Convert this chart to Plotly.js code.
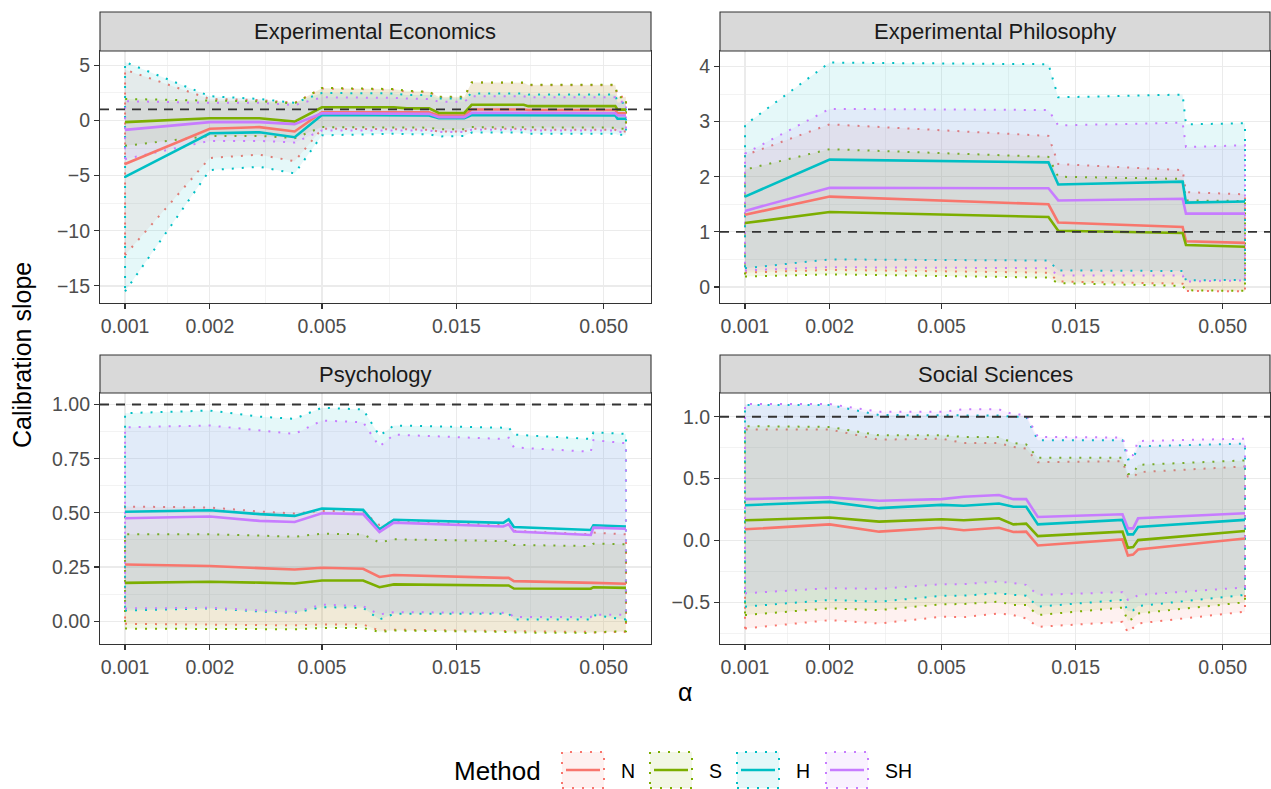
<!DOCTYPE html>
<html>
<head>
<meta charset="utf-8">
<script src="https://cdn.plot.ly/plotly-3.0.1.min.js"></script>
<style>html,body{margin:0;padding:0;background:#fff;}#chart{width:1271px;height:789px;}</style>
</head>
<body>
<div id="chart"></div>
<script>
// ---------------- DATA ----------------
const methods = ["N", "S", "H", "SH"];
const panelTitles = ["Experimental Economics", "Experimental Philosophy", "Psychology", "Social Sciences"];
const xTickVals = [0.001, 0.002, 0.005, 0.015, 0.05];
const xTickText = ["0.001", "0.002", "0.005", "0.015", "0.050"];

// Experimental Economics
const econ_alpha = [0.001,0.002,0.003,0.004,0.005,0.009,0.010,0.012,0.013,0.016,0.017,0.026,0.027,0.055,0.056,0.060];
const econ_N     = [-3.95,-0.75,-0.6,-1.0,0.75,0.8,0.75,0.75,0.45,0.45,1.0,1.0,0.95,0.95,0.65,0.65];
const econ_N_lo  = [-12.2,-3.4,-3.1,-3.7,-0.75,-0.75,-0.8,-0.85,-1.0,-1.0,-0.75,-0.75,-0.85,-0.85,-1.0,-1.0];
const econ_N_hi  = [4.6,1.95,1.85,1.6,2.9,2.8,2.6,2.6,2.1,2.1,3.45,3.4,3.2,3.2,2.15,2.15];
const econ_S     = [-0.15,0.2,0.2,-0.1,1.2,1.2,1.1,1.1,0.68,0.68,1.42,1.42,1.3,1.3,0.98,0.98];
const econ_S_lo  = [-2.3,-1.4,-1.4,-1.6,-0.6,-0.6,-0.65,-0.65,-0.8,-0.8,-0.6,-0.6,-0.65,-0.65,-0.75,-0.75];
const econ_S_hi  = [1.95,1.8,1.75,1.55,2.95,2.85,2.7,2.6,2.15,2.15,3.45,3.45,3.25,3.25,2.1,2.1];
const econ_H     = [-5.12,-1.16,-1.07,-1.52,0.5,0.5,0.45,0.45,0.2,0.2,0.5,0.5,0.45,0.45,0.15,0.15];
const econ_H_lo  = [-15.5,-4.5,-4.2,-4.8,-1.35,-1.2,-1.25,-1.25,-1.45,-1.4,-1.1,-1.1,-1.2,-1.2,-1.3,-1.3];
const econ_H_hi  = [5.3,2.2,1.95,1.6,2.5,2.45,2.3,2.3,2.0,2.0,2.45,2.45,2.35,2.35,1.6,1.6];
const econ_SH    = [-0.85,-0.15,-0.15,-0.33,0.65,0.65,0.6,0.6,0.3,0.3,0.7,0.7,0.65,0.65,0.45,0.45];
const econ_SH_lo = [-3.5,-1.85,-1.85,-2.0,-0.9,-0.85,-0.9,-0.9,-1.05,-1.05,-0.85,-0.85,-0.9,-0.9,-1.05,-1.05];
const econ_SH_hi = [1.75,1.6,1.6,1.4,2.1,2.05,2.0,1.95,1.7,1.7,2.2,2.2,2.1,2.1,1.7,1.7];

// Experimental Philosophy
const phil_alpha = [0.001,0.002,0.012,0.013,0.036,0.037,0.060];
const phil_N     = [1.31,1.64,1.50,1.17,1.09,0.83,0.80];
const phil_N_lo  = [0.26,0.31,0.26,0.10,0.06,-0.07,-0.08];
const phil_N_hi  = [2.39,2.95,2.74,2.23,2.12,1.72,1.68];
const phil_S     = [1.16,1.36,1.27,1.02,0.98,0.76,0.73];
const phil_S_lo  = [0.19,0.23,0.17,0.07,0.02,-0.06,-0.07];
const phil_S_hi  = [2.13,2.50,2.36,2.00,1.96,1.57,1.56];
const phil_H     = [1.64,2.31,2.26,1.86,1.91,1.53,1.55];
const phil_H_lo  = [0.34,0.50,0.48,0.30,0.29,0.12,0.13];
const phil_H_hi  = [2.94,4.07,4.04,3.44,3.49,2.95,2.97];
const phil_SH    = [1.38,1.80,1.79,1.57,1.60,1.33,1.33];
const phil_SH_lo = [0.30,0.36,0.34,0.21,0.21,0.10,0.12];
const phil_SH_hi = [2.42,3.23,3.21,2.93,2.98,2.54,2.57];

// Psychology
const psych_alpha = [0.001,0.002,0.003,0.004,0.005,0.007,0.008,0.009,0.022,0.023,0.024,0.045,0.046,0.060];
const psych_N     = [0.262,0.255,0.245,0.239,0.247,0.242,0.204,0.213,0.200,0.200,0.185,0.174,0.177,0.173];
const psych_N_lo  = [-0.012,-0.015,-0.017,-0.019,-0.015,-0.015,-0.043,-0.039,-0.045,-0.045,-0.046,-0.049,-0.052,-0.049];
const psych_N_hi  = [0.529,0.525,0.506,0.497,0.509,0.506,0.444,0.460,0.444,0.447,0.417,0.401,0.409,0.401];
const psych_S     = [0.177,0.182,0.178,0.174,0.188,0.188,0.157,0.170,0.165,0.165,0.151,0.150,0.157,0.154];
const psych_S_lo  = [-0.034,-0.036,-0.036,-0.037,-0.031,-0.031,-0.049,-0.043,-0.049,-0.049,-0.052,-0.054,-0.051,-0.046];
const psych_S_hi  = [0.401,0.401,0.395,0.390,0.404,0.401,0.363,0.378,0.370,0.370,0.352,0.347,0.358,0.355];
const psych_H     = [0.505,0.512,0.494,0.486,0.520,0.514,0.424,0.468,0.454,0.470,0.435,0.421,0.443,0.437];
const psych_H_lo  = [0.049,0.059,0.045,0.039,0.065,0.062,0.008,0.034,0.034,0.036,0.008,0.008,0.028,0.008];
const psych_H_hi  = [0.960,0.972,0.944,0.934,0.985,0.977,0.856,0.903,0.893,0.895,0.861,0.841,0.872,0.864];
const psych_SH    = [0.475,0.483,0.463,0.458,0.498,0.494,0.412,0.455,0.437,0.447,0.414,0.398,0.432,0.427];
const psych_SH_lo = [0.059,0.062,0.050,0.042,0.077,0.069,0.031,0.042,0.039,0.040,0.019,0.020,0.030,0.030];
const psych_SH_hi = [0.895,0.903,0.880,0.864,0.926,0.918,0.806,0.861,0.841,0.847,0.802,0.782,0.836,0.821];

// Social Sciences
const soc_alpha = [0.001,0.002,0.003,0.005,0.006,0.008,0.009,0.010,0.011,0.022,0.023,0.024,0.025,0.060];
const soc_N     = [0.090,0.130,0.071,0.103,0.082,0.103,0.068,0.071,-0.041,0.008,-0.122,-0.114,-0.073,0.016];
const soc_N_lo  = [-0.712,-0.644,-0.671,-0.617,-0.620,-0.590,-0.603,-0.630,-0.698,-0.658,-0.745,-0.707,-0.671,-0.576];
const soc_N_hi  = [0.897,0.897,0.815,0.823,0.788,0.788,0.755,0.742,0.633,0.641,0.516,0.505,0.552,0.598];
const soc_S     = [0.163,0.185,0.152,0.171,0.163,0.179,0.130,0.136,0.035,0.071,-0.060,-0.054,0.003,0.076];
const soc_S_lo  = [-0.603,-0.549,-0.563,-0.516,-0.514,-0.495,-0.522,-0.522,-0.603,-0.543,-0.652,-0.630,-0.590,-0.500];
const soc_S_hi  = [0.924,0.918,0.850,0.850,0.837,0.837,0.788,0.777,0.668,0.668,0.538,0.538,0.611,0.647];
const soc_H     = [0.285,0.312,0.261,0.288,0.280,0.299,0.272,0.272,0.130,0.166,0.049,0.049,0.109,0.166];
const soc_H_lo  = [-0.535,-0.481,-0.495,-0.448,-0.446,-0.427,-0.440,-0.446,-0.535,-0.481,-0.571,-0.565,-0.530,-0.440];
const soc_H_hi  = [1.095,1.095,1.014,1.014,1.010,1.010,1.000,1.000,0.810,0.810,0.655,0.660,0.761,0.783];
const soc_SH    = [0.334,0.348,0.321,0.334,0.353,0.367,0.334,0.334,0.190,0.212,0.098,0.098,0.179,0.220];
const soc_SH_lo = [-0.427,-0.386,-0.391,-0.353,-0.353,-0.332,-0.345,-0.359,-0.440,-0.418,-0.481,-0.470,-0.440,-0.380];
const soc_SH_hi = [1.103,1.103,1.040,1.040,1.060,1.060,1.020,1.015,0.837,0.832,0.688,0.690,0.804,0.823];

const referenceSlope = 1;

// ---------------- BUILD ----------------
const W = 1271, H = 789;
const px = v => v / W;
const py = v => 1 - v / H;
const colors = {N: "#F8766D", S: "#7CAE00", H: "#00BFC4", SH: "#C77CFF"};
const fills = {N: "rgba(248,118,109,0.10)", S: "rgba(124,174,0,0.10)", H: "rgba(0,191,196,0.10)", SH: "rgba(199,124,255,0.10)"};
const FONT = "Liberation Sans, Arial, Helvetica, sans-serif";
const TICK_SIZE = 19.5;

const panels = [
  {x: econ_alpha, N: [econ_N, econ_N_lo, econ_N_hi], S: [econ_S, econ_S_lo, econ_S_hi], H: [econ_H, econ_H_lo, econ_H_hi], SH: [econ_SH, econ_SH_lo, econ_SH_hi]},
  {x: phil_alpha, N: [phil_N, phil_N_lo, phil_N_hi], S: [phil_S, phil_S_lo, phil_S_hi], H: [phil_H, phil_H_lo, phil_H_hi], SH: [phil_SH, phil_SH_lo, phil_SH_hi]},
  {x: psych_alpha, N: [psych_N, psych_N_lo, psych_N_hi], S: [psych_S, psych_S_lo, psych_S_hi], H: [psych_H, psych_H_lo, psych_H_hi], SH: [psych_SH, psych_SH_lo, psych_SH_hi]},
  {x: soc_alpha, N: [soc_N, soc_N_lo, soc_N_hi], S: [soc_S, soc_S_lo, soc_S_hi], H: [soc_H, soc_H_lo, soc_H_hi], SH: [soc_SH, soc_SH_lo, soc_SH_hi]}
];

// panel geometry in pixels
const colX = [[100, 651], [720, 1270]];
const rowY = [[51, 303], [393, 644]];
const stripY = [[12, 51], [355, 393]];
const yCfg = [
  {range: [-16.55, 6.3], tickvals: [-15, -10, -5, 0, 5], minor: [-12.5, -7.5, -2.5, 2.5], fmt: ""},
  {range: [-0.29, 4.28], tickvals: [0, 1, 2, 3, 4], minor: [0.5, 1.5, 2.5, 3.5], fmt: ""},
  {range: [-0.105, 1.053], tickvals: [0, 0.25, 0.5, 0.75, 1], minor: [0.125, 0.375, 0.625, 0.875], fmt: ".2f"},
  {range: [-0.837, 1.192], tickvals: [-0.5, 0, 0.5, 1], minor: [-0.75, -0.25, 0.25, 0.75], fmt: ".1f"}
];

const traces = [];
const layout = {
  width: W, height: H, autosize: false,
  margin: {l: 0, r: 0, t: 0, b: 0},
  paper_bgcolor: "#FFFFFF", plot_bgcolor: "#FFFFFF",
  font: {family: FONT, color: "#4D4D4D"},
  showlegend: false,
  shapes: [], annotations: []
};

const xlogRange = [Math.log10(0.001) - 0.0889, Math.log10(0.06) + 0.0889];

panels.forEach((p, i) => {
  const col = i % 2, row = Math.floor(i / 2);
  const sfx = i === 0 ? "" : String(i + 1);
  const xa = "x" + sfx, ya = "y" + sfx;
  // ribbons
  methods.forEach(m => {
    const lo = p[m][1], hi = p[m][2];
    const xs = p.x.concat(p.x.slice().reverse()).concat([p.x[0]]);
    const ys = lo.concat(hi.slice().reverse()).concat([lo[0]]);
    traces.push({type: "scatter", mode: "lines", x: xs, y: ys, xaxis: xa, yaxis: ya,
      fill: "toself", fillcolor: fills[m],
      line: {color: colors[m], width: 2, dash: "2px,8px"},
      hoverinfo: "skip", showlegend: false});
  });
  // estimate lines
  methods.forEach(m => {
    traces.push({type: "scatter", mode: "lines", x: p.x, y: p[m][0], xaxis: xa, yaxis: ya,
      line: {color: colors[m], width: 2.6}, name: m, showlegend: false});
  });
  const cfg = yCfg[i];
  layout["xaxis" + sfx] = {
    type: "log", range: xlogRange, domain: [px(colX[col][0]), px(colX[col][1])],
    anchor: ya, tickmode: "array", tickvals: xTickVals, ticktext: xTickText,
    ticks: "outside", ticklen: 5, tickwidth: 1.1, tickcolor: "#333333",
    tickfont: {size: TICK_SIZE, color: "#4D4D4D", family: FONT},
    showgrid: true, gridcolor: "#EBEBEB", gridwidth: 1.2,
    minor: {tickmode: "array", tickvals: [0.0014142, 0.0031623, 0.0086603, 0.0273861], showgrid: true, gridcolor: "#EBEBEB", gridwidth: 0.6, ticks: ""},
    showline: true, mirror: true, linecolor: "#333333", linewidth: 1.1, zeroline: false
  };
  layout["yaxis" + sfx] = {
    range: cfg.range, domain: [py(rowY[row][1]), py(rowY[row][0])],
    anchor: xa, tickmode: "array", tickvals: cfg.tickvals, tickformat: cfg.fmt,
    ticks: "outside", ticklen: 5, tickwidth: 1.1, tickcolor: "#333333",
    tickfont: {size: TICK_SIZE, color: "#4D4D4D", family: FONT},
    showgrid: true, gridcolor: "#EBEBEB", gridwidth: 1.2,
    minor: {tickmode: "array", tickvals: cfg.minor, showgrid: true, gridcolor: "#EBEBEB", gridwidth: 0.6, ticks: ""},
    showline: true, mirror: true, linecolor: "#333333", linewidth: 1.1, zeroline: false
  };
  // reference line at slope 1
  layout.shapes.push({type: "line", xref: xa + " domain", yref: ya, x0: 0, x1: 1, y0: referenceSlope, y1: referenceSlope,
    line: {color: "#333333", width: 1.8, dash: "9px,7px"}, layer: "above"});
  // strip
  layout.shapes.push({type: "rect", xref: "paper", yref: "paper",
    x0: px(colX[col][0]), x1: px(colX[col][1]), y0: py(stripY[row][1]), y1: py(stripY[row][0]),
    fillcolor: "#D9D9D9", line: {color: "#333333", width: 1.1}, layer: "above"});
  layout.annotations.push({xref: "paper", yref: "paper",
    x: px((colX[col][0] + colX[col][1]) / 2), y: py((stripY[row][0] + stripY[row][1]) / 2),
    text: panelTitles[i], showarrow: false, xanchor: "center", yanchor: "middle",
    font: {size: 22, color: "#1A1A1A", family: FONT}});
});

// axis titles
layout.annotations.push({xref: "paper", yref: "paper", x: px(685), y: py(692), text: "α", showarrow: false,
  xanchor: "center", yanchor: "middle", font: {size: 25, color: "#000000", family: FONT}});
layout.annotations.push({xref: "paper", yref: "paper", x: px(22), y: py(355), text: "Calibration slope", showarrow: false,
  textangle: -90, xanchor: "center", yanchor: "middle", font: {size: 25, color: "#000000", family: FONT}});

// legend (drawn manually to mimic ggplot key: ribbon + line)
layout.annotations.push({xref: "paper", yref: "paper", x: px(452), y: py(771), text: "Method", showarrow: false,
  xanchor: "left", yanchor: "middle", font: {size: 26, color: "#000000", family: FONT}});
const keyLeft = [562, 650, 737, 826];
methods.forEach((m, k) => {
  const x0 = keyLeft[k], x1 = x0 + 42, y0 = 752, y1 = 788;
  layout.shapes.push({type: "rect", xref: "paper", yref: "paper", x0: px(x0), x1: px(x1), y0: py(y1), y1: py(y0),
    fillcolor: fills[m], line: {color: colors[m], width: 2, dash: "2px,8px"}});
  layout.shapes.push({type: "line", xref: "paper", yref: "paper", x0: px(x0 + 4), x1: px(x1 - 4), y0: py(770), y1: py(770),
    line: {color: colors[m], width: 2.6}});
  layout.annotations.push({xref: "paper", yref: "paper", x: px(x1 + 15), y: py(771), text: m, showarrow: false,
    xanchor: "left", yanchor: "middle", font: {size: 19.5, color: "#000000", family: FONT}});
});

Plotly.newPlot("chart", traces, layout, {staticPlot: true, displayModeBar: false});
</script>
</body>
</html>
